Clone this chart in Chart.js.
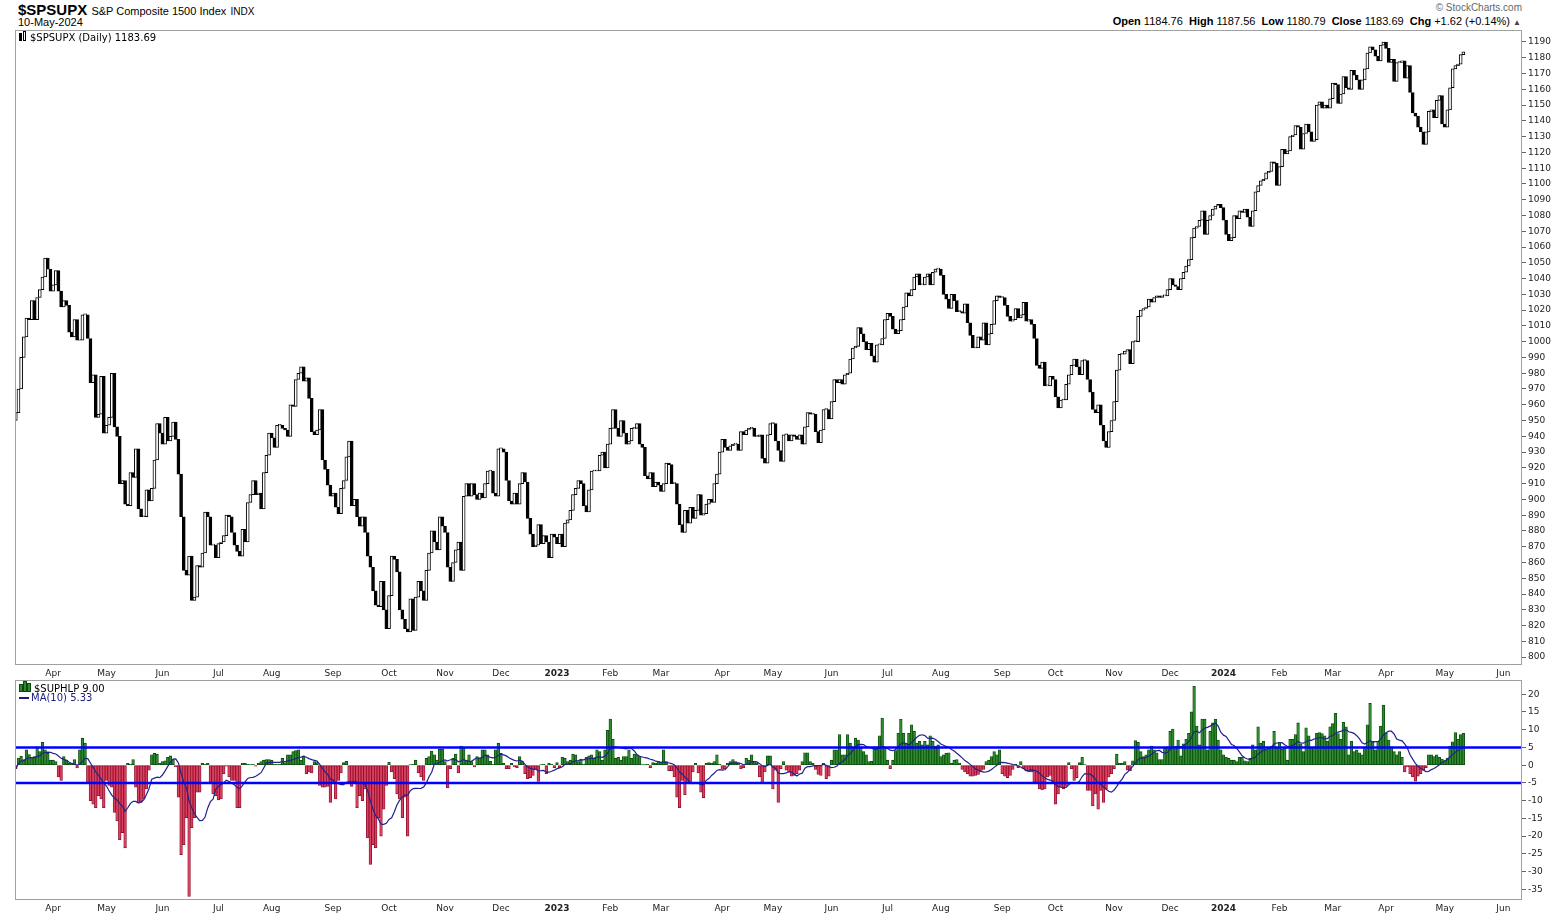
<!DOCTYPE html>
<html>
<head>
<meta charset="utf-8">
<script src="https://cdn.jsdelivr.net/npm/chart.js@4.4.1/dist/chart.umd.min.js"></script>
<style>
  body { margin: 0; background: #fff; width: 1565px; height: 919px; overflow: hidden; position: relative;
         font-family: "Liberation Sans", Arial, sans-serif; color: #000; }
  .abs { position: absolute; white-space: nowrap; }
  canvas { position: absolute; left: 0; }
  .leg { font-family: "DejaVu Sans", sans-serif; font-size: 10px; }
</style>
</head>
<body>

<div class="abs" style="left:18px;top:1px;font-size:15px;font-weight:bold;">$SPSUPX <span style="font-weight:normal;font-size:11px;">S&amp;P Composite 1500 Index</span> <span style="font-weight:normal;font-size:10px;">INDX</span></div>
<div class="abs" style="left:18px;top:16px;font-size:11px;">10-May-2024</div>
<div class="abs" style="right:43px;top:2px;font-size:10px;color:#666;">&#169; StockCharts.com</div>
<div class="abs" style="right:44px;top:15px;font-size:11px;"><b>Open</b> 1184.76 &nbsp;<b>High</b> 1187.56 &nbsp;<b>Low</b> 1180.79 &nbsp;<b>Close</b> 1183.69 &nbsp;<b>Chg</b> +1.62 (+0.14%) <span style="font-size:8px;color:#444;">&#9650;</span></div>

<canvas id="priceChart" width="1565" height="650" style="top:28px;"></canvas>
<canvas id="breadthChart" width="1565" height="241" style="top:678px;"></canvas>

<div class="abs leg" style="left:19px;top:31px;"><span style="display:inline-block;width:3px;height:8px;background:#000;margin-right:1px;"></span><span style="display:inline-block;width:1px;height:8px;border:1px solid #000;margin-right:4px;"></span>$SPSUPX (Daily) 1183.69</div>
<div class="abs leg" style="left:19px;top:681px;"><span style="display:inline-block;width:2px;height:6px;background:#2f8a2f;border:1px solid #0b4a0b;"></span><span style="display:inline-block;width:2px;height:9px;background:#2f8a2f;border:1px solid #0b4a0b;"></span><span style="display:inline-block;width:2px;height:7px;background:#2f8a2f;border:1px solid #0b4a0b;margin-right:3px;"></span>$SUPHLP 9.00</div>
<div class="abs leg" style="left:19px;top:692px;color:#1a1a80;"><span style="display:inline-block;width:10px;height:2px;background:#1a1a80;vertical-align:middle;margin-right:2px;"></span>MA(10) 5.33</div>

<script>
// daily closes, $SPSUPX, 14-Mar-2022 .. 10-May-2024
const close2022 = [
  955, 970, 990, 1003, 1015, 1014, 1026, 1014, 1028, 1033, 1041, 1053, 1046, 1032,
  1036, 1045, 1032, 1022, 1026, 1023, 1006, 1003, 1014, 1001, 1001, 1017, 1017, 1002, 974, 979, 952, 954, 978, 942,
  947, 952, 980, 946, 940, 910, 912, 897, 896, 917, 914, 932, 894, 889, 889, 906, 899, 907, 925, 948, 942,
  935, 952, 937, 940, 949, 938, 916, 889, 855, 852, 864, 836, 838, 858, 857, 866, 892, 889, 871, 871, 863,
  872, 873, 877, 890, 889, 879, 871, 867, 864, 881, 873, 898, 903, 912, 903, 904, 894, 917, 928, 942,
  939, 933, 947, 947, 945, 944, 940, 960, 959, 976, 980, 984, 975, 977, 964, 943, 941, 944, 957, 925, 919, 909, 902,
  904, 895, 891, 907, 912, 927, 937, 896, 900, 889, 883, 889, 879, 864, 857, 842, 833, 832, 848, 830, 818,
  839, 864, 862, 854, 830, 824, 818, 816, 837, 817, 838, 848, 842, 836, 855, 866, 880, 873, 868, 889, 883,
  879, 857, 848, 860, 868, 873, 855, 902, 910, 902, 910, 903, 900, 904, 901, 910, 918, 918, 904, 902, 932,
  932, 930, 912, 899, 897, 904, 897, 910, 917, 911, 888, 878, 870, 871, 884, 872, 877, 873, 863, 878, 876
];
const close2023 = [
  872, 878, 870, 885, 887, 893, 903, 907, 912, 910, 896, 892, 906, 918, 918, 918, 928, 930, 920, 935,
  945, 957, 945, 940, 950, 942, 935, 937, 945, 945, 948, 935, 933, 915, 913, 917, 908, 911, 909,
  905, 910, 923, 922, 910, 910, 897, 884, 879, 893, 885, 895, 888, 893, 903, 890, 891, 897, 900, 898, 910, 916, 930,
  938, 933, 931, 934, 935, 935, 931, 943, 941, 944, 945, 945, 940, 940, 941, 926, 923, 941, 948,
  948, 937, 931, 924, 941, 941, 937, 941, 940, 938, 941, 935, 946, 955, 954, 954, 943, 936, 944, 957, 957, 951,
  962, 976, 974, 976, 973, 979, 980, 989, 996, 997, 1009, 1005, 1000, 995, 999, 991, 987, 998, 998, 1002, 1014,
  1018, 1016, 1008, 1005, 1007, 1014, 1022, 1031, 1029, 1033, 1041, 1043, 1036, 1036, 1041, 1043, 1036, 1044, 1046, 1046,
  1042, 1030, 1027, 1021, 1030, 1026, 1019, 1019, 1018, 1024, 1012, 1004, 996, 996, 1003, 1001, 1012, 998, 1005, 1011, 1026, 1029, 1028,
  1028, 1023, 1016, 1013, 1014, 1021, 1015, 1017, 1025, 1013, 1014, 1011, 1002, 985, 983, 987, 972, 972, 978, 976,
  965, 958, 963, 963, 973, 979, 985, 989, 984, 979, 988, 988, 976, 968, 957, 955, 960, 947, 937, 933, 943, 950,
  962, 982, 992, 992, 994, 995, 986, 1000, 1000, 1016, 1020, 1021, 1022, 1027, 1025, 1028, 1029, 1028, 1029, 1029, 1033,
  1040, 1036, 1035, 1033, 1040, 1044, 1048, 1052, 1066, 1072, 1073, 1077, 1083, 1068, 1077, 1080, 1084, 1086, 1087, 1085
];
const close2024 = [
  1077, 1068, 1064, 1066, 1080, 1078, 1083, 1082, 1084, 1079, 1073, 1083, 1095, 1099, 1102, 1103, 1107, 1108, 1114, 1113, 1099,
  1111, 1122, 1119, 1121, 1130, 1131, 1137, 1136, 1122, 1132, 1138, 1133, 1127, 1128, 1150, 1152, 1148, 1150, 1148, 1154,
  1164, 1163, 1151, 1157, 1168, 1161, 1160, 1172, 1169, 1166, 1160, 1166, 1173, 1183, 1187, 1185, 1181, 1178, 1188, 1190,
  1186, 1177, 1179, 1165, 1177, 1177, 1178, 1167, 1175, 1158, 1145, 1143, 1136, 1133, 1125, 1133, 1146, 1147, 1142, 1153, 1156, 1138,
  1136, 1147, 1161, 1173, 1175, 1176, 1182, 1183.69
];
const firstOpen = 950;

// $SUPHLP daily values, same days
const hlp2022 = [
  -1, 2, 2.5, 1.6, 4.3, 3, 2.2, 2.4, 5.2, 3.8, 6.4, 4.3, 3.3, 1.4,
  1.4, 1, -3.3, -4.3, 2.4, 1.4, 0.5, 0.5, 1.6, -0.8, 4.3, 7.6, 6.2, -5.2, -10, -11, -12, -8.6, -9.5, -12,
  -4.3, -5.7, -6.2, -13.3, -15.7, -21, -19, -23.3, 0.5, 0.3, 1.6, -6.2, -10.5, -10.5, -9.5, -6.7, -1.4, 2.9, 3.3, 3.1, 0.5,
  1, 1.2, 2.2, 2.6, 1.6, -0.5, -9, -25.2, -22.4, -14.8, -37, -17.6, -14.8, -7.6, -7.6, 0.5, 0.3, 0.5, -4.8, -8.1, -8.6,
  -9.8, -9.5, -2.4, -0.3, -3.3, -4.3, -4.3, -12, -12, 0.5, 0.5, 0.3, 0.1, 0.2, -0.3, 0.5, 1, 1.4, 1.6, 1.6,
  1.4, 0.2, 0.2, 0.3, 1.9, 0.7, 2.9, 2.9, 3.8, 4.1, 4.3, 1.4, 2.6, -2.4, -1.9, -2.2, 1, 0.7, -5.7, -6.2, -6.2, -6, -10.5,
  -5.2, -9.5, -4.3, -2.2, 0.7, 1.1, -4.8, -6, -5.2, -12, -8.6, -10, -6.7, -20.5, -28, -22.4, -23.3, -14.8, -20, -12.4, -5.7,
  0.8, -1.9, -3.8, -8.1, -9.5, -14.8, -9, -20, 0.1, 0.2, 1.4, -2.2, -3.3, -4.3, 1.9, 2.4, 4, 2.9, 1.4, 4.5, 4.5,
  1, -6.4, -1, 1.9, 3.1, -2.2, 5.4, 4.8, 1.4, 2.9, 1, -0.5, 2.4, 1.9, 4.3, 4.3, 2.9, 1.1, 0.2, 4.3, 6.2,
  3.3, 0.5, -1, -1, 0.5, -0.5, -0.7, 2.4, 1, -2.4, -3.8, -3.5, -2.9, -1.2, -4.6, 0.1, 0.3, -2.4, 0.5, 0.3, -0.7
];
const hlp2023 = [
  0.7, -0.7, 2.2, 1.9, 1, 1.4, 3.1, 2.9, 1, 1.7, 0.3, 2.2, 2.6, 2.9, 1.9, 4.3, 3.8, 1.4, 4.3, 9.8,
  13, 7.3, 1.9, 2.2, 1.4, 2.4, 2.4, 4.3, 1.9, 3.1, 2.9, 2.4, 0.1, 0.1, 0.2, -0.7, 0.7, 0.5, 1,
  0.7, 4.3, 1, -1.6, -1.6, -3.3, -9, -12, -4.3, -8.3, -5.2, -5, -1.9, 0.5, -2.2, -7.6, -9.2, 0.5, 0.7, 0.5, 1, 2.9, 0.3,
  -1.2, -1, 0.5, 1, 1.6, 1, 0.5, -1, -0.7, 1.9, 1.4, 2.9, 1.1, 0.5, -3.3, -5, -1.9, 2.6, 2.6,
  -6.7, -1.4, -10.5, -1, 1, -1.4, -1.9, -3.1, -2.9, -2.4, -1.4, 1, 3.5, 3.5, 1, 0.5, -1.2, -2.6, -2.9, 0.5, -3.8, -3.1,
  1.4, 4.3, 4.3, 8.6, 2.9, 2.9, 8.6, 6.2, 5.2, 7.6, 7.1, 5.2, 3.8, 2.9, 1, 1.1, 5.2, 5.2, 8.3, 13.3, 4.8,
  1.4, -1, 1.4, 4.1, 9, 12.9, 9, 6.2, 9, 11.4, 9.5, 6.2, 6.7, 5.7, 6.7, 5.7, 8.3, 6.7, 5.4, 5.7,
  2.4, 2.9, 3.3, 3.5, 0.5, 1.4, 1.6, 0.5, -1.2, -1.9, -2.4, -3.1, -3.1, -2.9, -2.6, -1.9, -1.2, 1, 1.4, 2.4, 3.8, 2.9, 4.3,
  -2.4, -3.1, -3.5, -2.9, -1.2, 0.3, -0.7, 1, -1, -1.6, -1.9, -1.9, -4.8, -5.2, -6.7, -7, -6.7, -3.3, -2.9, -5,
  -11, -8.1, -6, -6.7, -6, 0.7, -1, -4.3, -3.5, 0.7, 2.2, 0.1, -7.1, -7.1, -11.4, -8.1, -12.4, -7.1, -10.5, -6.7, -3.3, -2.4,
  -1, 3.1, 0.5, 0.5, 1, -1.4, -1.6, 1.2, 6.9, 6.4, 3.8, 2.4, 2.9, 4.3, 5.4, 4.3, 3.5, 1.6, 1.6, 4.8, 5.2,
  9.5, 10.2, 5.2, 7.1, 2.6, 6, 7.3, 9, 15, 22.2, 11, 5.7, 13, 13, 4.3, 9.5, 11.9, 12.9, 7.1, 4.3
];
const hlp2024 = [
  2.9, 2.2, 1.9, 1.4, 1.4, 1, 2.2, 2.2, 1.2, 1, 1.9, 5.7, 4.3, 10.8, 6.2, 6.7, 4.3, 4.8, 5.4, 9.5, 4.8,
  6.4, 4.5, 4.8, 1.4, 7.3, 7.3, 8.6, 11.9, 6, 3.8, 10.5, 8.3, 4.8, 5.2, 9, 9.2, 8.9, 8.3, 6.7, 10.8,
  11.7, 14.6, 8.9, 7.3, 12.1, 10.8, 2.9, 6.7, 3.8, 4.3, 3.5, 2.9, 5.2, 11.4, 17.4, 6.7, 4.3, 6.7, 11, 16.9,
  9, 7.1, 5.2, 3.8, 2.9, 3.8, 2.2, -1.9, -0.5, -2.4, -3.3, -4.5, -3.1, -2.4, -1.4, -0.7, 2.9, 2.9, 2.4, 2.9, 2.2, 1.7,
  1.3, 2.0, 5.4, 6.6, 9.2, 7.3, 8.6, 9.0
];

// first trading day of each month (day index) and its axis label
const monthStarts = [14, 34, 55, 76, 96, 119, 140, 161, 182, 203, 223, 242, 265, 284, 306, 327, 347, 370, 390, 412, 433, 453, 474, 494, 514, 536, 558];
const monthLabels = ['Apr', 'May', 'Jun', 'Jul', 'Aug', 'Sep', 'Oct', 'Nov', 'Dec', '2023', 'Feb', 'Mar', 'Apr', 'May', 'Jun', 'Jul', 'Aug', 'Sep', 'Oct', 'Nov', 'Dec', '2024', 'Feb', 'Mar', 'Apr', 'May', 'Jun'];
const priceTicks = [800, 810, 820, 830, 840, 850, 860, 870, 880, 890, 900, 910, 920, 930, 940, 950, 960, 970, 980, 990,
  1000, 1010, 1020, 1030, 1040, 1050, 1060, 1070, 1080, 1090, 1100, 1110, 1120, 1130, 1140, 1150, 1160, 1170, 1180, 1190];
const hlpTicks = [20, 15, 10, 5, 0, -5, -10, -15, -20, -25, -30, -35];
const bandLevels = [5, -5];

const xMin = -0.3, xMax = 565;

const closes = [...close2022, ...close2023, ...close2024];
const hlp = [...hlp2022, ...hlp2023, ...hlp2024];

const candles = closes.map((c, i) => ({ x: i, y: [i ? closes[i - 1] : firstOpen, c] }));
const candleFill = closes.map((c, i) => c >= (i ? closes[i - 1] : firstOpen) ? '#ffffff' : '#000000');

const ma10 = hlp.map((v, i) => {
  const w = hlp.slice(Math.max(0, i - 9), i + 1);
  return { x: i, y: w.reduce((a, b) => a + b, 0) / w.length };
});

const frame = {
  id: 'frame',
  afterDatasetsDraw(chart) {
    const { ctx, chartArea: a } = chart;
    ctx.save();
    ctx.strokeStyle = '#a0a0a0';
    ctx.lineWidth = 1;
    ctx.strokeRect(a.left + 0.5, a.top + 0.5, a.right - a.left - 1, a.bottom - a.top - 1);
    ctx.restore();
  }
};

function xAxis(height) {
  return {
    type: 'linear', min: xMin, max: xMax, offset: false,
    grid: { display: false, drawTicks: false }, border: { display: false },
    afterBuildTicks: s => { s.ticks = monthStarts.map(v => ({ value: v })); },
    afterFit: s => { s.height = height; s.paddingLeft = 0; s.paddingRight = 0; },
    ticks: {
      autoSkip: false, maxRotation: 0, padding: 3, color: '#222',
      font: ctx => ({ family: 'DejaVu Sans', size: 9, weight: /^\d{4}$/.test(monthLabels[ctx.index]) ? 'bold' : 'normal' }),
      callback: (v, i) => monthLabels[i]
    }
  };
}

function yAxis(min, max, tickList) {
  return {
    position: 'right', min: min, max: max,
    afterBuildTicks: s => { s.ticks = tickList.map(v => ({ value: v })); },
    afterFit: s => { s.width = 43; s.paddingTop = 0; s.paddingBottom = 0; },
    grid: { drawOnChartArea: false, drawTicks: true, tickLength: 4, color: '#666' },
    border: { display: false },
    ticks: { padding: 2, color: '#222', font: { family: 'DejaVu Sans', size: 9 }, callback: v => String(v) }
  };
}

new Chart('priceChart', {
  type: 'bar',
  data: {
    datasets: [{
      data: candles,
      backgroundColor: candleFill,
      borderColor: '#000000',
      borderWidth: 1,
      borderSkipped: false,
      barThickness: 3,
      minBarLength: 1
    }]
  },
  options: {
    responsive: false,
    animation: false,
    layout: { padding: { left: 15, top: 2, right: 0, bottom: 0 } },
    plugins: { legend: { display: false }, tooltip: { enabled: false } },
    scales: { x: xAxis(13), y: yAxis(795, 1197.6, priceTicks) }
  },
  plugins: [frame]
});

new Chart('breadthChart', {
  type: 'bar',
  data: {
    datasets: [
      ...bandLevels.map(level => ({
        type: 'line',
        data: [{ x: xMin, y: level }, { x: xMax, y: level }],
        borderColor: '#0000ff',
        borderWidth: 2.5,
        pointRadius: 0,
        order: 1
      })),
      {
        type: 'line',
        data: ma10,
        borderColor: '#22228c',
        borderWidth: 1.2,
        pointRadius: 0,
        tension: 0,
        order: 2
      },
      {
        data: hlp.map((v, i) => ({ x: i, y: v })),
        backgroundColor: hlp.map(v => v >= 0 ? '#2f8a2f' : '#d9415e'),
        borderColor: hlp.map(v => v >= 0 ? '#0b4a0b' : '#8e0b2a'),
        borderWidth: 0.8,
        borderSkipped: false,
        barPercentage: 1,
        categoryPercentage: 1,
        order: 3
      }
    ]
  },
  options: {
    responsive: false,
    animation: false,
    layout: { padding: { left: 15, top: 2, right: 0, bottom: 0 } },
    plugins: { legend: { display: false }, tooltip: { enabled: false } },
    scales: { x: xAxis(19), y: yAxis(-38, 24, hlpTicks) }
  },
  plugins: [frame]
});
</script>
</body>
</html>
